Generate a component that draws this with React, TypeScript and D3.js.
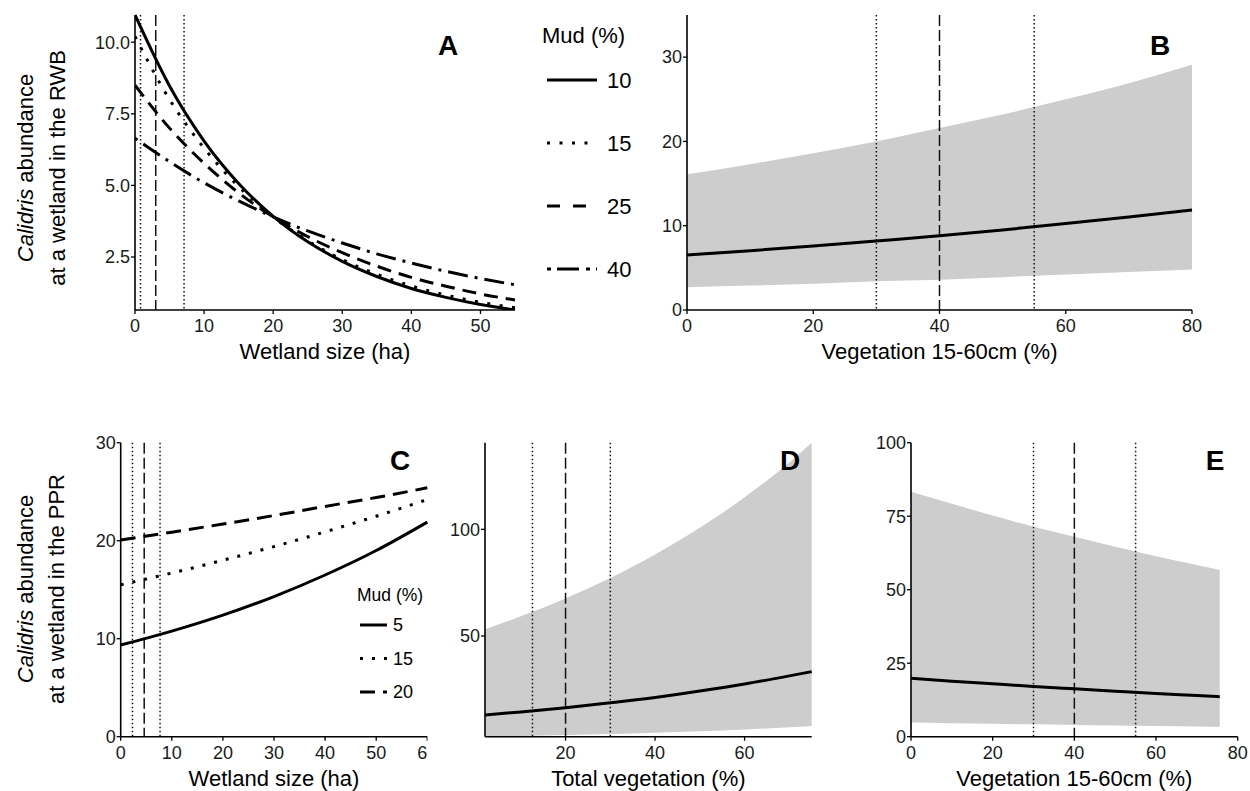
import React from "react";
import * as d3 from "d3";

// ---------------- Panel A (RWB, wetland size x mud) ----------------
const A_SIZE = [0, 5, 10, 15, 20, 25, 30, 35, 40, 45, 50, 55];
const A_MUD10 = [10.95, 8.47, 6.55, 5.07, 3.92, 3.03, 2.35, 1.82, 1.4, 1.09, 0.84, 0.65];
const A_MUD15 = [10.2, 8.0, 6.3, 4.96, 3.9, 3.07, 2.41, 1.9, 1.49, 1.17, 0.92, 0.73];
const A_MUD25 = [8.5, 7.0, 5.77, 4.74, 3.9, 3.21, 2.65, 2.18, 1.79, 1.48, 1.21, 1.0];
const A_MUD40 = [6.65, 5.83, 5.09, 4.46, 3.9, 3.41, 2.99, 2.61, 2.29, 2.0, 1.75, 1.53];
const A_MUD_LEVELS = ["10", "15", "25", "40"];
const A_REF_LINES = [0.8, 3, 7.1];
const A_X_TICKS = [0, 10, 20, 30, 40, 50];
const A_Y_TICKS = [2.5, 5, 7.5, 10];

// ---------------- Panel B (RWB, vegetation 15-60cm) ----------------
const B_VEG = [0, 10, 20, 30, 40, 50, 60, 70, 80];
const B_FIT = [6.52, 7.03, 7.59, 8.19, 8.8, 9.5, 10.25, 11.03, 11.86];
const B_LOW = [2.7, 2.9, 3.1, 3.4, 3.6, 3.9, 4.2, 4.5, 4.8];
const B_HIGH = [16.1, 17.3, 18.6, 20.0, 21.6, 23.2, 25.0, 26.9, 29.1];
const B_REF_LINES = [30, 40, 55];
const B_X_TICKS = [0, 20, 40, 60, 80];
const B_Y_TICKS = [0, 10, 20, 30];

// ---------------- Panel C (PPR, wetland size x mud) ----------------
const C_SIZE = [0, 10, 20, 30, 40, 50, 60];
const C_MUD5 = [9.35, 10.77, 12.4, 14.3, 16.5, 19.0, 21.9];
const C_MUD15 = [15.5, 16.7, 18.0, 19.4, 20.9, 22.5, 24.2];
const C_MUD20 = [20.07, 20.87, 21.7, 22.57, 23.5, 24.4, 25.4];
const C_MUD_LEVELS = ["5", "15", "20"];
const C_REF_LINES = [2.3, 4.6, 7.7];
const C_X_TICKS = [0, 10, 20, 30, 40, 50, 60];
const C_Y_TICKS = [0, 10, 20, 30];

// ---------------- Panel D (PPR, total vegetation) ----------------
const D_VEG = [2, 10, 20, 30, 40, 50, 60, 70, 75];
const D_FIT = [13.0, 14.4, 16.4, 18.7, 21.2, 24.2, 27.5, 31.3, 33.3];
const D_LOW = [2.8, 3.1, 3.6, 4.1, 4.7, 5.4, 6.2, 7.2, 7.8];
const D_HIGH = [53.2, 59.2, 67.6, 77.2, 88.2, 100.7, 115.0, 131.3, 140.6];
const D_REF_LINES = [12.6, 20, 30];
const D_X_TICKS = [20, 40, 60];
const D_Y_TICKS = [50, 100];

// ---------------- Panel E (PPR, vegetation 15-60cm) ----------------
const E_VEG = [0, 10, 20, 30, 40, 50, 60, 70, 75.6];
const E_FIT = [19.9, 18.9, 18.0, 17.1, 16.3, 15.5, 14.7, 14.0, 13.6];
const E_LOW = [4.8, 4.6, 4.4, 4.2, 4.0, 3.8, 3.6, 3.5, 3.4];
const E_HIGH = [83.3, 79.2, 75.2, 71.4, 68.0, 64.6, 61.4, 58.4, 56.7];
const E_REF_LINES = [30, 40, 55];
const E_X_TICKS = [0, 20, 40, 60, 80];
const E_Y_TICKS = [0, 25, 50, 75, 100];

const REF_TYPES = ["dotted", "dashed", "dotted"];

// ---------------- styles ----------------
const FONT = "'Liberation Sans', Arial, Helvetica, sans-serif";
const BAND = "#cdcdcd";
const REF_DASH: Record<string, string> = { dotted: "1.5,2.5", dashed: "11,4" };
const A_DASH = ["", "3,9.5", "14,8", "3,7,20,7"];
const A_LEGEND_DASH = ["", "3,9.5", "13,13", "4,6,22,7"];
const C_DASH = ["", "3,9", "15,8"];
const TICK_FS = 18;

type Series = { xs: number[]; ys: number[]; dash: string };
type PanelProps = {
  id: string;
  left: number;
  right: number;
  top: number;
  bottom: number;
  xDomain: [number, number];
  yDomain: [number, number];
  xTicks: number[];
  yTicks: number[];
  yFmt?: (v: number) => string;
  xTitle: string;
  label: string;
  labelX: number;
  labelY: number;
  series: Series[];
  band?: { xs: number[]; lo: number[]; hi: number[] };
  refLines: number[];
  tickClipRight?: number;
};

function Panel(p: PanelProps) {
  const x = d3.scaleLinear().domain(p.xDomain).range([p.left, p.right]);
  const y = d3.scaleLinear().domain(p.yDomain).range([p.bottom, p.top]);
  const pathFor = (xs: number[], ys: number[]) =>
    d3
      .line<number>()
      .x((_, i) => x(xs[i]))
      .y((d) => y(d))
      .curve(d3.curveMonotoneX)(ys) || "";
  const areaPath = p.band
    ? d3
        .area<number>()
        .x((_, i) => x(p.band!.xs[i]))
        .y0((_, i) => y(p.band!.lo[i]))
        .y1((_, i) => y(p.band!.hi[i]))
        .curve(d3.curveMonotoneX)(p.band.lo) || ""
    : "";
  const fmt = p.yFmt || ((v: number) => String(v));
  const clip = `${p.id}-clip`;
  const tclip = `${p.id}-tclip`;
  return (
    <g>
      <defs>
        <clipPath id={clip}>
          <rect x={p.left} y={p.top - 3} width={p.right - p.left + 2} height={p.bottom - p.top + 3} />
        </clipPath>
        {p.tickClipRight !== undefined && (
          <clipPath id={tclip}>
            <rect x={0} y={p.bottom} width={p.tickClipRight} height={40} />
          </clipPath>
        )}
      </defs>
      <g clipPath={`url(#${clip})`}>
        {p.band && <path d={areaPath} fill={BAND} stroke="none" />}
        {p.refLines.map((v, i) => (
          <line
            key={"r" + i}
            x1={x(v)}
            x2={x(v)}
            y1={p.top}
            y2={p.bottom}
            stroke="#111"
            strokeWidth={1.5}
            strokeDasharray={REF_DASH[REF_TYPES[i]]}
          />
        ))}
        {p.series.map((s, i) => (
          <path
            key={"s" + i}
            d={pathFor(s.xs, s.ys)}
            fill="none"
            stroke="#000"
            strokeWidth={3}
            strokeDasharray={s.dash || undefined}
            strokeLinecap="butt"
          />
        ))}
      </g>
      {/* axes */}
      <line x1={p.left} x2={p.left} y1={p.top} y2={p.bottom} stroke="#000" strokeWidth={1.6} />
      <line x1={p.left} x2={p.right} y1={p.bottom} y2={p.bottom} stroke="#000" strokeWidth={1.6} />
      {p.yTicks.map((t) => (
        <g key={"yt" + t}>
          <line x1={p.left - 4} x2={p.left} y1={y(t)} y2={y(t)} stroke="#000" strokeWidth={1.3} />
          <text
            x={p.left - 5}
            y={y(t)}
            dy="0.35em"
            textAnchor="end"
            fontSize={TICK_FS}
            fill="#1a1a1a"
          >
            {fmt(t)}
          </text>
        </g>
      ))}
      <g clipPath={p.tickClipRight !== undefined ? `url(#${tclip})` : undefined}>
        {p.xTicks.map((t) => (
          <g key={"xt" + t}>
            <line x1={x(t)} x2={x(t)} y1={p.bottom} y2={p.bottom + 4} stroke="#000" strokeWidth={1.3} />
            <text x={x(t)} y={p.bottom + 22} textAnchor="middle" fontSize={TICK_FS} fill="#1a1a1a">
              {t}
            </text>
          </g>
        ))}
      </g>
      <text
        x={(p.left + p.right) / 2}
        y={p.bottom + 49}
        textAnchor="middle"
        fontSize={22}
        fill="#000"
      >
        {p.xTitle}
      </text>
      <text
        x={p.labelX}
        y={p.labelY}
        dy="0.36em"
        textAnchor="middle"
        fontSize={28}
        fontWeight="bold"
        fill="#000"
      >
        {p.label}
      </text>
    </g>
  );
}

function YTitle({ cx, cy, cx2, region }: { cx: number; cy: number; cx2: number; region: string }) {
  return (
    <g fontSize={22} fill="#000">
      <text
        x={cx}
        y={cy}
        textAnchor="middle"
        dominantBaseline="central"
        transform={`rotate(-90, ${cx}, ${cy})`}
      >
        <tspan fontStyle="italic">Calidris</tspan> abundance
      </text>
      <text
        x={cx2}
        y={cy}
        textAnchor="middle"
        dominantBaseline="central"
        transform={`rotate(-90, ${cx2}, ${cy})`}
      >
        {`at a wetland in the ${region}`}
      </text>
    </g>
  );
}

export default function App() {
  const aAll = A_MUD10.concat(A_MUD15, A_MUD25, A_MUD40);
  const aY = d3.extent(aAll) as [number, number];
  const aX = d3.extent(A_SIZE) as [number, number];
  const dX = d3.extent(D_VEG) as [number, number];
  const dY = d3.extent(D_LOW.concat(D_HIGH)) as [number, number];

  const aSeries = [A_MUD10, A_MUD15, A_MUD25, A_MUD40].map((ys, i) => ({
    xs: A_SIZE,
    ys,
    dash: A_DASH[i],
  }));
  const cSeries = [C_MUD5, C_MUD15, C_MUD20].map((ys, i) => ({
    xs: C_SIZE,
    ys,
    dash: C_DASH[i],
  }));

  return (
    <svg
      width={1250}
      height={791}
      style={{ position: "absolute", left: 0, top: 0, background: "#fff" }}
      fontFamily={FONT}
    >
      <rect x={0} y={0} width={1250} height={791} fill="#fff" />
      {/* Panel A */}
      <YTitle cx={25} cx2={57} cy={168} region="RWB" />
      <Panel
        id="pa"
        left={135}
        right={515}
        top={15}
        bottom={310}
        xDomain={aX}
        yDomain={aY}
        xTicks={A_X_TICKS}
        yTicks={A_Y_TICKS}
        yFmt={d3.format(".1f")}
        xTitle="Wetland size (ha)"
        label="A"
        labelX={448}
        labelY={45}
        series={aSeries}
        refLines={A_REF_LINES}
      />
      {/* Legend A */}
      <g>
        <text x={542} y={35} dy="0.35em" fontSize={22} fill="#000">
          Mud (%)
        </text>
        {A_MUD_LEVELS.map((lev, i) => (
          <g key={lev}>
            <line
              x1={547}
              x2={597}
              y1={80 + i * 63}
              y2={80 + i * 63}
              stroke="#000"
              strokeWidth={3}
              strokeDasharray={A_LEGEND_DASH[i] || undefined}
            />
            <text x={607} y={80 + i * 63} dy="0.35em" fontSize={22} fill="#000">
              {lev}
            </text>
          </g>
        ))}
      </g>
      {/* Panel B */}
      <Panel
        id="pb"
        left={687}
        right={1192}
        top={15}
        bottom={310}
        xDomain={[0, 80]}
        yDomain={[0, 35]}
        xTicks={B_X_TICKS}
        yTicks={B_Y_TICKS}
        xTitle="Vegetation 15-60cm (%)"
        label="B"
        labelX={1160}
        labelY={45}
        series={[{ xs: B_VEG, ys: B_FIT, dash: "" }]}
        band={{ xs: B_VEG, lo: B_LOW, hi: B_HIGH }}
        refLines={B_REF_LINES}
      />
      {/* Panel C */}
      <YTitle cx={25} cx2={56} cy={589} region="PPR" />
      <Panel
        id="pc"
        left={120.7}
        right={427.3}
        top={442.7}
        bottom={736.7}
        xDomain={[0, 60]}
        yDomain={[0, 30]}
        xTicks={C_X_TICKS}
        yTicks={C_Y_TICKS}
        xTitle="Wetland size (ha)"
        label="C"
        labelX={400}
        labelY={460}
        series={cSeries}
        refLines={C_REF_LINES}
        tickClipRight={427.5}
      />
      {/* Legend C */}
      <g>
        <text x={357} y={595} dy="0.35em" fontSize={17.5} fill="#000">
          Mud (%)
        </text>
        {C_MUD_LEVELS.map((lev, i) => (
          <g key={lev}>
            <line
              x1={360}
              x2={387}
              y1={625 + i * 33.5}
              y2={625 + i * 33.5}
              stroke="#000"
              strokeWidth={3}
              strokeDasharray={C_DASH[i] || undefined}
            />
            <text x={393} y={625 + i * 33.5} dy="0.35em" fontSize={18} fill="#000">
              {lev}
            </text>
          </g>
        ))}
      </g>
      {/* Panel D */}
      <Panel
        id="pd"
        left={485}
        right={811.7}
        top={442.7}
        bottom={736.7}
        xDomain={dX}
        yDomain={dY}
        xTicks={D_X_TICKS}
        yTicks={D_Y_TICKS}
        xTitle="Total vegetation (%)"
        label="D"
        labelX={790}
        labelY={460}
        series={[{ xs: D_VEG, ys: D_FIT, dash: "" }]}
        band={{ xs: D_VEG, lo: D_LOW, hi: D_HIGH }}
        refLines={D_REF_LINES}
      />
      {/* Panel E */}
      <Panel
        id="pe"
        left={911}
        right={1237.7}
        top={442.7}
        bottom={736.7}
        xDomain={[0, 80]}
        yDomain={[0, 100]}
        xTicks={E_X_TICKS}
        yTicks={E_Y_TICKS}
        xTitle="Vegetation 15-60cm (%)"
        label="E"
        labelX={1215}
        labelY={460}
        series={[{ xs: E_VEG, ys: E_FIT, dash: "" }]}
        band={{ xs: E_VEG, lo: E_LOW, hi: E_HIGH }}
        refLines={E_REF_LINES}
      />
    </svg>
  );
}
